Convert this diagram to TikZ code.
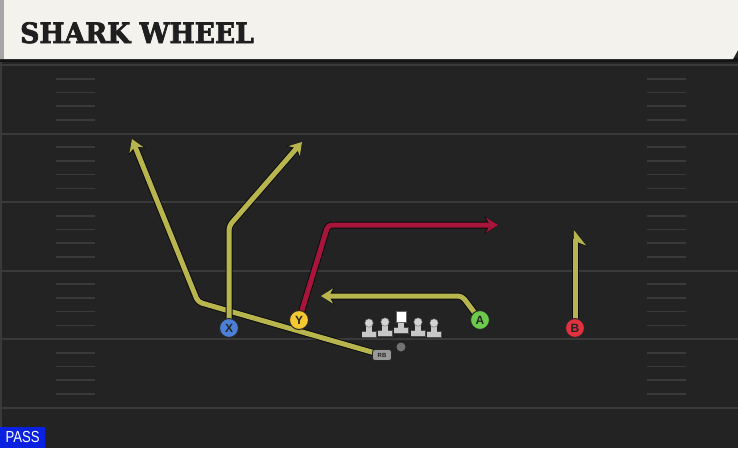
\documentclass[tikz,border=0pt]{standalone}
\usepackage{fontspec}
\usetikzlibrary{arrows.meta}
\newfontfamily\titlefont[UprightFont={* Bold}, FakeBold=2.6]{DejaVu Serif}
\newfontfamily\labelfont{Liberation Sans}
\definecolor{fieldbg}{HTML}{232323}
\definecolor{fieldline}{HTML}{3A3A3A}
\definecolor{header}{HTML}{F4F2EC}
\definecolor{routeY}{HTML}{B8B54E}
\definecolor{routeR}{HTML}{A8153A}
\definecolor{pX}{HTML}{4C7FD6}
\definecolor{pY}{HTML}{F5C832}
\definecolor{pA}{HTML}{6CCB4A}
\definecolor{pB}{HTML}{E2313F}
\definecolor{passblue}{HTML}{0A22E0}
\definecolor{lmgray}{HTML}{C8C8C8}
\tikzset{
  majorline/.style={draw=fieldline, line width=2pt},
  hashline/.style={draw=fieldline, line width=1.6pt},
  route/.style={line width=5pt, rounded corners=4pt, line join=round,
    -{Stealth[length=12pt,width=15pt,inset=4pt]},
    preaction={draw=black!95, line width=7pt, -{Stealth[length=13.5pt,width=17.5pt,inset=4pt]}}},
  player/.style={circle, minimum size=19pt, inner sep=0pt, draw=black!85, line width=1pt,
    font=\labelfont\bfseries\fontsize{12}{12}\selectfont, text=black!85},
  rbbox/.style={fill=black!40, draw=black!85, line width=0.8pt, rounded corners=2.5pt, minimum width=19pt, minimum height=11pt,
    inner sep=0pt, font=\labelfont\bfseries\fontsize{6}{6}\selectfont, text=black!85},
  lineman/.pic={
    \fill[black!70] (-7.5,0.8) rectangle (7.5,-5.8);
    \fill[lmgray] (-7,0) rectangle (7,-5);
    \fill[lmgray] (-2.6,-5) rectangle (2.6,-14);
    \fill[lmgray!80!white, draw=black!60, line width=0.4pt] (0,-14) circle (4.2);
  },
  centerman/.pic={
    \fill[black!70] (-7.5,0.8) rectangle (7.5,-5.8);
    \fill[lmgray] (-7,0) rectangle (7,-5);
    \fill[lmgray] (-2.6,-5) rectangle (2.6,-11);
    \fill[white, draw=black!60, line width=0.4pt] (-5.2,-21.5) rectangle (5.2,-11);
  }
}
\begin{document}
\begin{tikzpicture}[x=1pt,y=-1pt]
\useasboundingbox (0,0) rectangle (738,448);
% field
\fill[fieldbg] (0,0) rectangle (738,448);
\fill[black!92] (0,58) rectangle (738,62);
\fill[fieldline] (0,62) rectangle (2,448);
% major lines
\foreach \y in {65,133.5,202,270.5,339,407.5}
  \draw[majorline] (0,\y) -- (738,\y);
% hash marks
\foreach \s in {65,133.5,202,270.5,339}
  \foreach \k in {1,2,3,4} {
    \draw[hashline] (56,\s+\k*13.7) -- (95,\s+\k*13.7);
    \draw[hashline] (647,\s+\k*13.7) -- (686,\s+\k*13.7);
  }
% header
\fill[header] (0,0) -- (738,0) -- (738,50) -- (733,59) -- (0,59) -- cycle;
\fill[black!35] (0,0) rectangle (4,59);
\node[anchor=base west, inner sep=0pt, font=\titlefont\fontsize{28}{28}\selectfont, text=black!88]
  (title) at (20,43) {\scalebox{0.95}[1]{SHARK WHEEL}};
% pass label
\node[fill=passblue, anchor=south west, minimum width=45pt, minimum height=21pt, inner sep=0pt,
  font=\labelfont\fontsize{16}{16}\selectfont, text=white] (pass) at (0,448) {\scalebox{0.82}[1]{PASS}};
% players (positions)
\coordinate (X) at (229,328);
\coordinate (Y) at (299,320);
\coordinate (A) at (480,320);
\coordinate (B) at (575,328);
\coordinate (RB) at (382,355);
% route end points
\coordinate (xbend) at (229,226);
\coordinate (xend) at (302,142);
\coordinate (rbbend) at (198,302);
\coordinate (rbend) at (132,139);
\coordinate (ybend) at (328,225);
\coordinate (yend) at (498,225);
\coordinate (abend) at (462,296);
\coordinate (aend) at (321,296);
\coordinate (bend) at (575,230);
% routes
\draw[route, draw=routeY] (RB) -- (rbbend) -- (rbend);
\draw[route, draw=routeY] (X) -- (xbend) -- (xend);
\draw[route, draw=routeR] (Y) -- (ybend) -- (yend);
\draw[route, draw=routeY] (A) -- (abend) -- (aend);
\draw[line width=5pt, draw=routeY, -{Stealth[right,length=14pt,width=22pt,inset=4.5pt]},
  preaction={draw=black!95, line width=7pt, -{Stealth[right,length=15pt,width=24pt,inset=4.5pt]}}]
  (B) -- (bend);
% players on top
\node[player, fill=pX] (Xn) at (X) {X};
\node[player, fill=pY] (Yn) at (Y) {Y};
\node[player, fill=pA] (An) at (A) {A};
\node[player, fill=pB] (Bn) at (B) {B};
\node[rbbox] (RBn) at (RB) {RB};
\node[circle, fill=black!55, minimum size=9pt, inner sep=0pt] (QB) at (401,347) {};
% linemen
\pic (LT) at (369,337) {lineman};
\pic (LG) at (385,336) {lineman};
\pic (C) at (401,333) {centerman};
\pic (RG) at (418,336) {lineman};
\pic (RT) at (434,337) {lineman};
\end{tikzpicture}
\end{document}
